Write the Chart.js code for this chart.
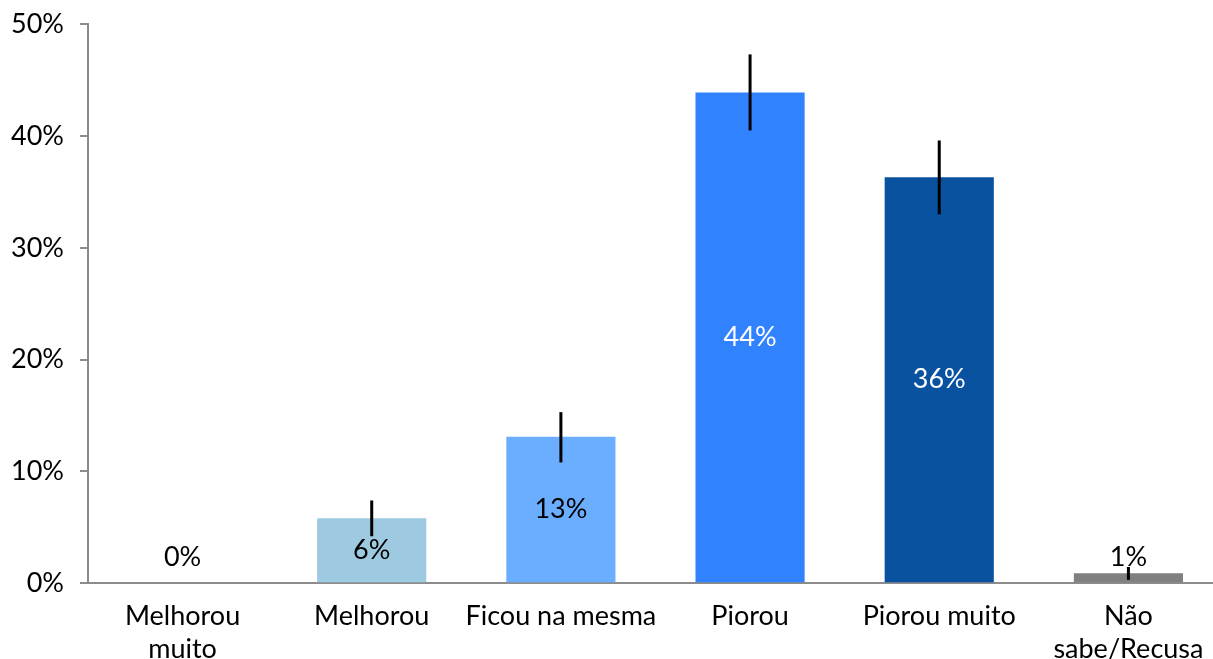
<!DOCTYPE html>
<html>
<head>
<meta charset="utf-8">
<script src="https://cdn.jsdelivr.net/npm/chart.js@4/dist/chart.umd.min.js"></script>
<style>
  html, body { margin: 0; padding: 0; background: #fff; overflow: hidden; }
  #wrap { width: 1223px; height: 682px; margin-top: -8px; }
</style>
</head>
<body>
<div id="wrap"><canvas id="chart"></canvas></div>
<script>
// Data
const categories = [['Melhorou', 'muito'], 'Melhorou', 'Ficou na mesma', 'Piorou', 'Piorou muito', ['Não', 'sabe/Recusa']];
const values = [0, 5.8, 13.1, 43.9, 36.3, 0.9];
const errLow = [null, 4.2, 10.8, 40.5, 33.0, 0.3];
const errHigh = [null, 7.4, 15.3, 47.3, 39.6, 1.45];
const labelsText = ['0%', '6%', '13%', '44%', '36%', '1%'];
const barColors = ['#9ecae1', '#9ecae1', '#6baeff', '#3182ff', '#08529f', '#808080'];
const labelColors = ['#000', '#000', '#000', '#fff', '#fff', '#000'];
const yTicks = [0, 10, 20, 30, 40, 50];

const FONT = 'Lato, "Open Sans", sans-serif';
const FSIZE = 27;

// error bars + value labels
const overlay = {
  id: 'overlay',
  afterDatasetsDraw(chart) {
    const ctx = chart.ctx;
    const y = chart.scales.y;
    const meta = chart.getDatasetMeta(0);
    ctx.save();
    ctx.font = FSIZE + 'px ' + FONT;
    ctx.textAlign = 'center';
    ctx.textBaseline = 'middle';
    meta.data.forEach((bar, i) => {
      ctx.fillStyle = labelColors[i];
      let ly;
      if (values[i] < 2) ly = y.getPixelForValue(0) - 26;
      else ly = (bar.y + bar.base) / 2;
      ctx.fillText(labelsText[i], bar.x, ly);
    });
    ctx.strokeStyle = '#000';
    ctx.lineWidth = 3;
    meta.data.forEach((bar, i) => {
      if (errLow[i] == null) return;
      ctx.beginPath();
      ctx.moveTo(bar.x, y.getPixelForValue(errHigh[i]));
      ctx.lineTo(bar.x, y.getPixelForValue(errLow[i]));
      ctx.stroke();
    });
    ctx.restore();
  }
};

new Chart(document.getElementById('chart'), {
  type: 'bar',
  data: {
    labels: categories,
    datasets: [{
      data: values,
      backgroundColor: barColors,
      barPercentage: 0.577,
      categoryPercentage: 1
    }]
  },
  options: {
    responsive: true,
    maintainAspectRatio: false,
    animation: false,
    layout: { padding: { top: 0, left: -5, right: 0, bottom: 0 } },
    plugins: { legend: { display: false }, tooltip: { enabled: false } },
    scales: {
      x: {
        grid: { display: false },
        border: { display: true, color: '#8c8c8c', width: 2 },
        ticks: { color: '#000', font: { family: FONT, size: FSIZE }, padding: 9, maxRotation: 0, autoSkip: false }
      },
      y: {
        min: 0,
        max: 50,
        afterBuildTicks(axis) { axis.ticks = yTicks.map(v => ({ value: v })); },
        grid: { drawOnChartArea: false, drawTicks: true, tickLength: 8, color: '#8c8c8c', lineWidth: 2 },
        border: { display: true, color: '#8c8c8c', width: 2 },
        ticks: { color: '#000', font: { family: FONT, size: FSIZE }, padding: 16, callback: v => v + '%' }
      }
    }
  },
  plugins: [overlay]
});
</script>
</body>
</html>
